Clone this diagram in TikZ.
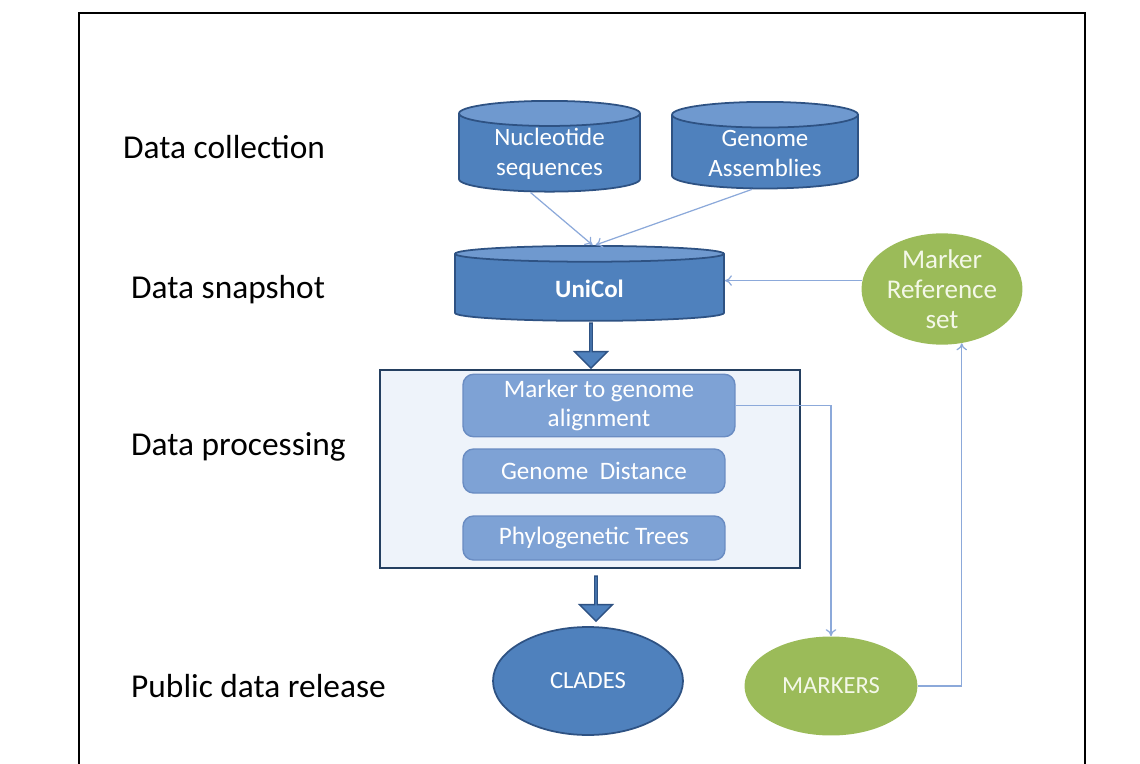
\documentclass[tikz,border=0pt]{standalone}
\usepackage{fontspec}
\setmainfont{Carlito}
\usetikzlibrary{shapes.geometric,shapes.arrows,arrows.meta}

\definecolor{dbbody}{HTML}{4F81BD}
\definecolor{dbtop}{HTML}{6F99CF}
\definecolor{dbline}{HTML}{2E5283}
\definecolor{procfill}{HTML}{EEF3FA}
\definecolor{procline}{HTML}{243F60}
\definecolor{taskfill}{HTML}{7EA2D5}
\definecolor{taskline}{HTML}{6A8CC2}
\definecolor{mkgreen}{HTML}{9BBB59}
\definecolor{mktext}{HTML}{F4F8E8}
\definecolor{flowline}{HTML}{8CA9DA}

\tikzset{
  stage/.style={anchor=west, font=\fontsize{19}{22}\selectfont},
  store/.style={cylinder, shape border rotate=90, aspect=0.22, draw=dbline, line width=1pt,
    inner sep=1pt, anchor=north,
    cylinder uses custom fill, cylinder body fill=dbbody, cylinder end fill=dbtop,
    text=white, align=center, font=\fontsize{14.2}{17}\selectfont},
  task/.style={rounded corners=6pt, draw=taskline, line width=0.8pt, fill=taskfill,
    text=white, align=center, font=\fontsize{14.3}{16.5}\selectfont},
  marker/.style={ellipse, fill=mkgreen, text=mktext, align=center, inner sep=0pt},
  flow/.style={draw=flowline, line width=0.7pt, -{To[length=4pt,width=6pt]}},
  bigarrow/.style={single arrow, shape border rotate=270, fill=dbbody, draw=dbline,
    line width=0.8pt, inner sep=0pt, minimum height=0.9cm, minimum width=0.66cm,
    single arrow head extend=0.17cm}
}

\begin{document}
\begin{tikzpicture}[x=0.02cm, y=-0.02cm]
    \useasboundingbox (0,0) rectangle (1140,764);
    \draw[line width=1.6pt] (79,770) -- (79,13) -- (1085,13) -- (1085,770);

    % stage labels
    \node[stage] (lcoll) at (117,147) {Data collection};
    \node[stage] (lsnap) at (125,290) {Data snapshot};
    \node[stage] (lproc) at (125,447) {Data processing};
    \node[stage] (lrel)  at (125,686) {Public data release};

    % databases
    \node[store, minimum width=3.62cm, minimum height=1.7cm] (nuc) at (549.5,100) {Nucleotide\\sequences};
    \node[store, minimum width=3.72cm, minimum height=1.66cm] (gen) at (765,101) {Genome\\Assemblies};
    \node[store, minimum width=5.38cm, minimum height=1.5cm] (unicol) at (589.5,245) {\textbf{UniCol}};

    % processing
    \node[draw=procline, line width=1.4pt, fill=procfill, minimum width=8.4cm, minimum height=3.96cm] (proc) at (590,469) {};
    \node[task, minimum width=5.44cm, minimum height=1.1cm] (align) at (599,405.5) {Marker to genome\\alignment};
    \node[task, minimum width=5.24cm, minimum height=0.88cm] (dist) at (594,471) {Genome\ \ Distance};
    \node[task, minimum width=5.24cm, minimum height=0.88cm] (phylo) at (594,538) {Phylogenetic Trees};

    % releases
    \node[ellipse, fill=dbbody, draw=dbline, line width=1pt, text=white, minimum width=3.8cm, minimum height=2.16cm,
      font=\fontsize{14}{17}\selectfont] (clades) at (588,681) {CLADES};
    \node[marker, minimum width=3.46cm, minimum height=1.98cm, font=\fontsize{14}{17}\selectfont] (markers) at (831,686) {MARKERS};
    \node[marker, minimum width=3.22cm, minimum height=1.76cm, font=\fontsize{15.4}{17}\selectfont] (mref) at (942,289) {Marker\\Reference\\set};

    % big arrows
    \node[bigarrow] (arr1) at (591,345) {};
    \node[bigarrow] (arr2) at (596,598) {};

    % thin connectors
    \draw[flow] ([xshift=-0.38cm]nuc.south) -- ([xshift=0.06cm]unicol.north);
    \draw[flow] ([xshift=-0.26cm]gen.south) -- ([xshift=0.12cm]unicol.north);
    \draw[flow] (align.east) -| (markers.north);
    \draw[flow] (markers.east) -| (mref.-70);
    \draw[flow] (mref.174) -- (mref.174 -| unicol.east);
\end{tikzpicture}
\end{document}
